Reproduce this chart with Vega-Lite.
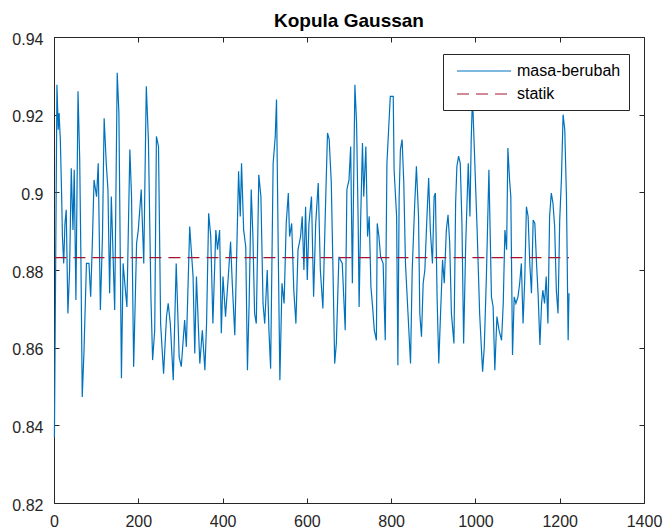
{
  "$schema": "https://vega.github.io/schema/vega-lite/v6.json",
  "width": 590,
  "height": 466,
  "autosize": {"type": "none"},
  "padding": {"left": 54, "top": 37, "right": 21, "bottom": 27},
  "background": "#ffffff",
  "title": {"text": "Kopula Gaussan", "font": "Liberation Sans", "fontSize": 19, "fontWeight": "bold", "color": "#000000", "baseline": "alphabetic", "offset": -15, "anchor": "middle"},
  "config": {
    "view": {"stroke": null},
    "axis": {"grid": false, "title": null, "domainColor": "#262626", "domainWidth": 1, "tickColor": "#262626", "tickWidth": 1, "tickSize": -5, "labelFont": "Liberation Sans", "labelFontSize": 16, "labelColor": "#262626", "labelFlush": false, "labelOverlap": false}
  },
  "data": {"values": [
    {"x":1,"y":0.8370,"s":"masa-berubah"},{"x":7,"y":0.9277,"s":"masa-berubah"},{"x":10,"y":0.9161,"s":"masa-berubah"},{"x":12,"y":0.9204,"s":"masa-berubah"},{"x":15,"y":0.9136,"s":"masa-berubah"},{"x":18,"y":0.8998,"s":"masa-berubah"},{"x":20,"y":0.8886,"s":"masa-berubah"},{"x":23,"y":0.8817,"s":"masa-berubah"},{"x":26,"y":0.8920,"s":"masa-berubah"},{"x":29,"y":0.8955,"s":"masa-berubah"},{"x":33,"y":0.8688,"s":"masa-berubah"},{"x":37,"y":0.8800,"s":"masa-berubah"},{"x":41,"y":0.9062,"s":"masa-berubah"},{"x":45,"y":0.8903,"s":"masa-berubah"},{"x":48,"y":0.9058,"s":"masa-berubah"},{"x":52,"y":0.8723,"s":"masa-berubah"},{"x":57,"y":0.9260,"s":"masa-berubah"},{"x":61,"y":0.9084,"s":"masa-berubah"},{"x":64,"y":0.8817,"s":"masa-berubah"},{"x":67,"y":0.8473,"s":"masa-berubah"},{"x":71,"y":0.8585,"s":"masa-berubah"},{"x":77,"y":0.8817,"s":"masa-berubah"},{"x":83,"y":0.8817,"s":"masa-berubah"},{"x":87,"y":0.8731,"s":"masa-berubah"},{"x":91,"y":0.8869,"s":"masa-berubah"},{"x":95,"y":0.9032,"s":"masa-berubah"},{"x":101,"y":0.8989,"s":"masa-berubah"},{"x":105,"y":0.9075,"s":"masa-berubah"},{"x":110,"y":0.8697,"s":"masa-berubah"},{"x":115,"y":0.8886,"s":"masa-berubah"},{"x":119,"y":0.9191,"s":"masa-berubah"},{"x":124,"y":0.9075,"s":"masa-berubah"},{"x":128,"y":0.9007,"s":"masa-berubah"},{"x":132,"y":0.8740,"s":"masa-berubah"},{"x":136,"y":0.8989,"s":"masa-berubah"},{"x":144,"y":0.8697,"s":"masa-berubah"},{"x":150,"y":0.9308,"s":"masa-berubah"},{"x":154,"y":0.9204,"s":"masa-berubah"},{"x":160,"y":0.8521,"s":"masa-berubah"},{"x":164,"y":0.8817,"s":"masa-berubah"},{"x":168,"y":0.8766,"s":"masa-berubah"},{"x":173,"y":0.8705,"s":"masa-berubah"},{"x":180,"y":0.9110,"s":"masa-berubah"},{"x":184,"y":0.8989,"s":"masa-berubah"},{"x":189,"y":0.8551,"s":"masa-berubah"},{"x":196,"y":0.8869,"s":"masa-berubah"},{"x":200,"y":0.8903,"s":"masa-berubah"},{"x":207,"y":0.9007,"s":"masa-berubah"},{"x":213,"y":0.8817,"s":"masa-berubah"},{"x":219,"y":0.9273,"s":"masa-berubah"},{"x":224,"y":0.9136,"s":"masa-berubah"},{"x":230,"y":0.8731,"s":"masa-berubah"},{"x":234,"y":0.8568,"s":"masa-berubah"},{"x":239,"y":0.8645,"s":"masa-berubah"},{"x":243,"y":0.9144,"s":"masa-berubah"},{"x":248,"y":0.9118,"s":"masa-berubah"},{"x":253,"y":0.8662,"s":"masa-berubah"},{"x":260,"y":0.8533,"s":"masa-berubah"},{"x":267,"y":0.8680,"s":"masa-berubah"},{"x":271,"y":0.8714,"s":"masa-berubah"},{"x":276,"y":0.8662,"s":"masa-berubah"},{"x":283,"y":0.8516,"s":"masa-berubah"},{"x":290,"y":0.8817,"s":"masa-berubah"},{"x":297,"y":0.8576,"s":"masa-berubah"},{"x":302,"y":0.8551,"s":"masa-berubah"},{"x":310,"y":0.8671,"s":"masa-berubah"},{"x":314,"y":0.8602,"s":"masa-berubah"},{"x":322,"y":0.8912,"s":"masa-berubah"},
    {"x":330,"y":0.8783,"s":"masa-berubah"},{"x":334,"y":0.8585,"s":"masa-berubah"},{"x":338,"y":0.8783,"s":"masa-berubah"},{"x":346,"y":0.8559,"s":"masa-berubah"},{"x":352,"y":0.8645,"s":"masa-berubah"},{"x":358,"y":0.8542,"s":"masa-berubah"},{"x":362,"y":0.8662,"s":"masa-berubah"},{"x":367,"y":0.8946,"s":"masa-berubah"},{"x":372,"y":0.8886,"s":"masa-berubah"},{"x":377,"y":0.8662,"s":"masa-berubah"},{"x":384,"y":0.8903,"s":"masa-berubah"},{"x":388,"y":0.8852,"s":"masa-berubah"},{"x":393,"y":0.8903,"s":"masa-berubah"},{"x":397,"y":0.8637,"s":"masa-berubah"},{"x":401,"y":0.8783,"s":"masa-berubah"},{"x":407,"y":0.8680,"s":"masa-berubah"},{"x":413,"y":0.8774,"s":"masa-berubah"},{"x":419,"y":0.8873,"s":"masa-berubah"},{"x":423,"y":0.8766,"s":"masa-berubah"},{"x":429,"y":0.8632,"s":"masa-berubah"},{"x":433,"y":0.8817,"s":"masa-berubah"},{"x":438,"y":0.9054,"s":"masa-berubah"},{"x":442,"y":0.8938,"s":"masa-berubah"},{"x":445,"y":0.9075,"s":"masa-berubah"},{"x":450,"y":0.8903,"s":"masa-berubah"},{"x":455,"y":0.8860,"s":"masa-berubah"},{"x":459,"y":0.8542,"s":"masa-berubah"},{"x":463,"y":0.8714,"s":"masa-berubah"},{"x":468,"y":0.9007,"s":"masa-berubah"},{"x":472,"y":0.8886,"s":"masa-berubah"},{"x":476,"y":0.8688,"s":"masa-berubah"},{"x":480,"y":0.8662,"s":"masa-berubah"},{"x":486,"y":0.9045,"s":"masa-berubah"},{"x":491,"y":0.8989,"s":"masa-berubah"},{"x":496,"y":0.8714,"s":"masa-berubah"},{"x":500,"y":0.8662,"s":"masa-berubah"},{"x":506,"y":0.8800,"s":"masa-berubah"},{"x":510,"y":0.8645,"s":"masa-berubah"},{"x":514,"y":0.8546,"s":"masa-berubah"},{"x":520,"y":0.9075,"s":"masa-berubah"},{"x":525,"y":0.9144,"s":"masa-berubah"},{"x":528,"y":0.9239,"s":"masa-berubah"},{"x":532,"y":0.8860,"s":"masa-berubah"},{"x":536,"y":0.8516,"s":"masa-berubah"},{"x":541,"y":0.8766,"s":"masa-berubah"},{"x":546,"y":0.8714,"s":"masa-berubah"},{"x":551,"y":0.8920,"s":"masa-berubah"},{"x":556,"y":0.8998,"s":"masa-berubah"},{"x":559,"y":0.8886,"s":"masa-berubah"},{"x":564,"y":0.8920,"s":"masa-berubah"},{"x":569,"y":0.8748,"s":"masa-berubah"},{"x":574,"y":0.8662,"s":"masa-berubah"},{"x":579,"y":0.8852,"s":"masa-berubah"},{"x":585,"y":0.8886,"s":"masa-berubah"},{"x":589,"y":0.8938,"s":"masa-berubah"},{"x":593,"y":0.8800,"s":"masa-berubah"},{"x":597,"y":0.8963,"s":"masa-berubah"},{"x":601,"y":0.8774,"s":"masa-berubah"},{"x":605,"y":0.8920,"s":"masa-berubah"},{"x":611,"y":0.8989,"s":"masa-berubah"},{"x":616,"y":0.8731,"s":"masa-berubah"},{"x":621,"y":0.8920,"s":"masa-berubah"},{"x":627,"y":0.9024,"s":"masa-berubah"},{"x":632,"y":0.8800,"s":"masa-berubah"},{"x":638,"y":0.8701,"s":"masa-berubah"},{"x":644,"y":0.8955,"s":"masa-berubah"},{"x":649,"y":0.9153,"s":"masa-berubah"},{"x":653,"y":0.9136,"s":"masa-berubah"},{"x":658,"y":0.9024,"s":"masa-berubah"},{"x":662,"y":0.8800,"s":"masa-berubah"},{"x":666,"y":0.8559,"s":"masa-berubah"},{"x":670,"y":0.8611,"s":"masa-berubah"},{"x":676,"y":0.8834,"s":"masa-berubah"},
    {"x":684,"y":0.8817,"s":"masa-berubah"},{"x":691,"y":0.8645,"s":"masa-berubah"},{"x":695,"y":0.9007,"s":"masa-berubah"},{"x":700,"y":0.9032,"s":"masa-berubah"},{"x":704,"y":0.9118,"s":"masa-berubah"},{"x":708,"y":0.8766,"s":"masa-berubah"},{"x":714,"y":0.9277,"s":"masa-berubah"},{"x":718,"y":0.9178,"s":"masa-berubah"},{"x":722,"y":0.8903,"s":"masa-berubah"},{"x":724,"y":0.8705,"s":"masa-berubah"},{"x":728,"y":0.8946,"s":"masa-berubah"},{"x":732,"y":0.9127,"s":"masa-berubah"},{"x":735,"y":0.8989,"s":"masa-berubah"},{"x":740,"y":0.9118,"s":"masa-berubah"},{"x":744,"y":0.8886,"s":"masa-berubah"},{"x":748,"y":0.8938,"s":"masa-berubah"},{"x":752,"y":0.8757,"s":"masa-berubah"},{"x":756,"y":0.8705,"s":"masa-berubah"},{"x":760,"y":0.8645,"s":"masa-berubah"},{"x":765,"y":0.8619,"s":"masa-berubah"},{"x":767,"y":0.8920,"s":"masa-berubah"},{"x":771,"y":0.8886,"s":"masa-berubah"},{"x":775,"y":0.8834,"s":"masa-berubah"},{"x":781,"y":0.8817,"s":"masa-berubah"},{"x":786,"y":0.8619,"s":"masa-berubah"},{"x":790,"y":0.9075,"s":"masa-berubah"},{"x":794,"y":0.9161,"s":"masa-berubah"},{"x":798,"y":0.9247,"s":"masa-berubah"},{"x":805,"y":0.9247,"s":"masa-berubah"},{"x":807,"y":0.9058,"s":"masa-berubah"},{"x":813,"y":0.8938,"s":"masa-berubah"},{"x":816,"y":0.8555,"s":"masa-berubah"},{"x":819,"y":0.8989,"s":"masa-berubah"},{"x":822,"y":0.9110,"s":"masa-berubah"},{"x":826,"y":0.9136,"s":"masa-berubah"},{"x":830,"y":0.9024,"s":"masa-berubah"},{"x":834,"y":0.8817,"s":"masa-berubah"},{"x":840,"y":0.8688,"s":"masa-berubah"},{"x":846,"y":0.8559,"s":"masa-berubah"},{"x":850,"y":0.8800,"s":"masa-berubah"},{"x":856,"y":0.8972,"s":"masa-berubah"},{"x":860,"y":0.9067,"s":"masa-berubah"},{"x":865,"y":0.8938,"s":"masa-berubah"},{"x":868,"y":0.8688,"s":"masa-berubah"},{"x":872,"y":0.8628,"s":"masa-berubah"},{"x":876,"y":0.8766,"s":"masa-berubah"},{"x":880,"y":0.8800,"s":"masa-berubah"},{"x":885,"y":0.8938,"s":"masa-berubah"},{"x":889,"y":0.9037,"s":"masa-berubah"},{"x":893,"y":0.8903,"s":"masa-berubah"},{"x":898,"y":0.8817,"s":"masa-berubah"},{"x":902,"y":0.8989,"s":"masa-berubah"},{"x":905,"y":0.8998,"s":"masa-berubah"},{"x":909,"y":0.8731,"s":"masa-berubah"},{"x":913,"y":0.8559,"s":"masa-berubah"},{"x":917,"y":0.8680,"s":"masa-berubah"},{"x":922,"y":0.8826,"s":"masa-berubah"},{"x":926,"y":0.8766,"s":"masa-berubah"},{"x":931,"y":0.8903,"s":"masa-berubah"},{"x":935,"y":0.8942,"s":"masa-berubah"},{"x":939,"y":0.8869,"s":"masa-berubah"},{"x":943,"y":0.8688,"s":"masa-berubah"},{"x":949,"y":0.8611,"s":"masa-berubah"},{"x":953,"y":0.8972,"s":"masa-berubah"},{"x":956,"y":0.9067,"s":"masa-berubah"},{"x":960,"y":0.9093,"s":"masa-berubah"},{"x":964,"y":0.9075,"s":"masa-berubah"},{"x":968,"y":0.8920,"s":"masa-berubah"},{"x":972,"y":0.8611,"s":"masa-berubah"},{"x":977,"y":0.8869,"s":"masa-berubah"},{"x":983,"y":0.9075,"s":"masa-berubah"},{"x":987,"y":0.8938,"s":"masa-berubah"},{"x":990,"y":0.9136,"s":"masa-berubah"},{"x":993,"y":0.9247,"s":"masa-berubah"},{"x":998,"y":0.9093,"s":"masa-berubah"},{"x":1004,"y":0.8903,"s":"masa-berubah"},{"x":1010,"y":0.8688,"s":"masa-berubah"},{"x":1017,"y":0.8538,"s":"masa-berubah"},{"x":1021,"y":0.8602,"s":"masa-berubah"},{"x":1026,"y":0.8783,"s":"masa-berubah"},{"x":1032,"y":0.9058,"s":"masa-berubah"},
    {"x":1038,"y":0.8731,"s":"masa-berubah"},{"x":1042,"y":0.8705,"s":"masa-berubah"},{"x":1046,"y":0.8542,"s":"masa-berubah"},{"x":1051,"y":0.8680,"s":"masa-berubah"},{"x":1056,"y":0.8645,"s":"masa-berubah"},{"x":1062,"y":0.8619,"s":"masa-berubah"},{"x":1066,"y":0.8714,"s":"masa-berubah"},{"x":1070,"y":0.8903,"s":"masa-berubah"},{"x":1074,"y":0.8852,"s":"masa-berubah"},{"x":1077,"y":0.9114,"s":"masa-berubah"},{"x":1081,"y":0.9032,"s":"masa-berubah"},{"x":1084,"y":0.8989,"s":"masa-berubah"},{"x":1088,"y":0.8581,"s":"masa-berubah"},{"x":1092,"y":0.8731,"s":"masa-berubah"},{"x":1096,"y":0.8714,"s":"masa-berubah"},{"x":1101,"y":0.8731,"s":"masa-berubah"},{"x":1105,"y":0.8766,"s":"masa-berubah"},{"x":1109,"y":0.8817,"s":"masa-berubah"},{"x":1113,"y":0.8662,"s":"masa-berubah"},{"x":1117,"y":0.8774,"s":"masa-berubah"},{"x":1121,"y":0.8963,"s":"masa-berubah"},{"x":1125,"y":0.8938,"s":"masa-berubah"},{"x":1129,"y":0.8817,"s":"masa-berubah"},{"x":1133,"y":0.8740,"s":"masa-berubah"},{"x":1137,"y":0.8929,"s":"masa-berubah"},{"x":1141,"y":0.8920,"s":"masa-berubah"},{"x":1145,"y":0.8817,"s":"masa-berubah"},{"x":1149,"y":0.8731,"s":"masa-berubah"},{"x":1153,"y":0.8607,"s":"masa-berubah"},{"x":1157,"y":0.8714,"s":"masa-berubah"},{"x":1160,"y":0.8748,"s":"masa-berubah"},{"x":1164,"y":0.8714,"s":"masa-berubah"},{"x":1168,"y":0.8783,"s":"masa-berubah"},{"x":1172,"y":0.8662,"s":"masa-berubah"},{"x":1176,"y":0.8938,"s":"masa-berubah"},{"x":1180,"y":0.8998,"s":"masa-berubah"},{"x":1184,"y":0.8972,"s":"masa-berubah"},{"x":1188,"y":0.8912,"s":"masa-berubah"},{"x":1192,"y":0.8748,"s":"masa-berubah"},{"x":1196,"y":0.8688,"s":"masa-berubah"},{"x":1200,"y":0.8929,"s":"masa-berubah"},{"x":1204,"y":0.9032,"s":"masa-berubah"},{"x":1208,"y":0.9200,"s":"masa-berubah"},{"x":1212,"y":0.9161,"s":"masa-berubah"},{"x":1216,"y":0.8989,"s":"masa-berubah"},{"x":1220,"y":0.8619,"s":"masa-berubah"},{"x":1222,"y":0.8740,"s":"masa-berubah"},
    {"x":1,"y":0.8832,"s":"statik"},{"x":1222,"y":0.8832,"s":"statik"}
  ]},
  "layer": [
    {
      "mark": {"type": "line", "strokeWidth": 1.2},
      "encoding": {
        "x": {"field": "x", "type": "quantitative", "scale": {"domain": [0, 1400], "nice": false, "zero": false},
              "axis": {"orient": "bottom", "values": [0,200,400,600,800,1000,1200,1400], "format": "d", "labelPadding": 15}},
        "y": {"field": "y", "type": "quantitative", "scale": {"domain": [0.82, 0.94], "nice": false, "zero": false},
              "axis": {"orient": "left", "values": [0.82,0.84,0.86,0.88,0.9,0.92,0.94], "format": ".2~f", "labelPadding": 16, "labelOffset": 2}},
        "color": {"field": "s", "type": "nominal",
                  "scale": {"domain": ["masa-berubah", "statik"], "range": ["#0072BD", "#A2142F"]},
                  "legend": {"orient": "none", "legendX": 389, "legendY": 17, "title": null, "symbolType": "M-0.375,0H6.375", "symbolSize": 256, "symbolStrokeWidth": 1.2, "symbolOpacity": 1, "labelFont": "Liberation Sans", "labelFontSize": 16, "labelColor": "#000000", "labelOffset": 48, "labelLimit": 0, "padding": 8, "rowPadding": 6, "strokeColor": "#262626", "fillColor": "#ffffff"}},
        "strokeDash": {"field": "s", "type": "nominal",
                  "scale": {"domain": ["masa-berubah", "statik"], "range": [[1, 0], [12, 7]]},
                  "legend": {"orient": "none", "legendX": 389, "legendY": 17, "title": null, "symbolType": "M-0.375,0H6.375", "symbolSize": 256, "symbolStrokeWidth": 1.2, "symbolOpacity": 1, "labelFont": "Liberation Sans", "labelFontSize": 16, "labelColor": "#000000", "labelOffset": 48, "labelLimit": 0, "padding": 8, "rowPadding": 6, "strokeColor": "#262626", "fillColor": "#ffffff"}}
      }
    },
    {
      "mark": {"type": "point", "opacity": 0},
      "encoding": {
        "x": {"field": "x", "type": "quantitative", "axis": {"orient": "top", "labels": false, "values": [0,200,400,600,800,1000,1200,1400]}},
        "y": {"field": "y", "type": "quantitative", "axis": {"orient": "right", "labels": false, "values": [0.82,0.84,0.86,0.88,0.9,0.92,0.94]}}
      }
    }
  ],
  "resolve": {"axis": {"x": "independent", "y": "independent"}}
}
